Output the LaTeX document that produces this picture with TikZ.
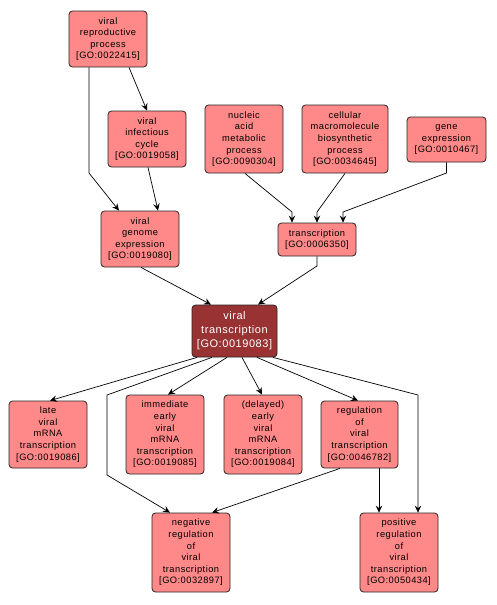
\documentclass[tikz,border=0pt]{standalone}
\usepackage{fontspec}
\setmainfont{Liberation Sans}[LetterSpace=5]
\usetikzlibrary{arrows.meta,calc}
\definecolor{lightbox}{RGB}{255,136,136}
\definecolor{darkbox}{RGB}{153,51,51}
\begin{document}
\begin{tikzpicture}[x=1pt,y=-1pt,
  term/.style={draw=black!85,line width=0.8pt,rounded corners=3.5pt,fill=lightbox,
    align=center,inner sep=0pt,font=\fontsize{9.3}{11.6}\selectfont},
  focus/.style={draw=black!85,line width=0.8pt,rounded corners=3.5pt,fill=darkbox,
    align=center,inner sep=0pt,text=white,font=\fontsize{11}{14}\selectfont},
  edge/.style={draw=black,line width=0.7pt,-{Stealth[length=7pt,width=6.5pt,inset=2.5pt]}}]
\useasboundingbox (0,0) rectangle (496,605);
\node[term,minimum width=78,minimum height=56] (vrp) at (108,39) {viral\\reproductive\\process\\{[}GO:0022415{]}};
\node[term,minimum width=78,minimum height=56] (vic) at (147,139) {viral\\infectious\\cycle\\{[}GO:0019058{]}};
\node[term,minimum width=78,minimum height=56] (vge) at (140,239) {viral\\genome\\expression\\{[}GO:0019080{]}};
\node[term,minimum width=78,minimum height=68] (namp) at (244,139) {nucleic\\acid\\metabolic\\process\\{[}GO:0090304{]}};
\node[term,minimum width=86,minimum height=68] (cmbp) at (345,139) {cellular\\macromolecule\\biosynthetic\\process\\{[}GO:0034645{]}};
\node[term,minimum width=79,minimum height=45] (ge) at (446.5,139.5) {gene\\expression\\{[}GO:0010467{]}};
\node[term,minimum width=78,minimum height=33] (tr) at (317,239.5) {transcription\\{[}GO:0006350{]}};
\node[focus,minimum width=85,minimum height=52] (vt) at (234.5,331) {viral\\transcription\\{[}GO:0019083{]}};
\node[term,minimum width=78,minimum height=67] (late) at (48,434.5) {late\\viral\\mRNA\\transcription\\{[}GO:0019086{]}};
\node[term,minimum width=78,minimum height=79] (ie) at (165,434.5) {immediate\\early\\viral\\mRNA\\transcription\\{[}GO:0019085{]}};
\node[term,minimum width=78,minimum height=79] (de) at (263,434.5) {(delayed)\\early\\viral\\mRNA\\transcription\\{[}GO:0019084{]}};
\node[term,minimum width=77,minimum height=67] (reg) at (359.5,434.5) {regulation\\of\\viral\\transcription\\{[}GO:0046782{]}};
\node[term,minimum width=78,minimum height=79] (neg) at (191,552.5) {negative\\regulation\\of\\viral\\transcription\\{[}GO:0032897{]}};
\node[term,minimum width=78,minimum height=79] (pos) at (399,552.5) {positive\\regulation\\of\\viral\\transcription\\{[}GO:0050434{]}};
% edges
\draw[edge] ($(vrp.south)+(21,0)$) -- (vic.north);
\draw[edge] ($(vrp.south)+(-19,0)$) -- (89,173) -- ($(vge.north)+(-21,0)$);
\draw[edge] ($(vic.south)+(1,0)$) -- ($(vge.north)+(18,0)$);
\draw[edge] ($(vge.south)+(1,0)$) -- ($(vt.north)+(-23.5,0)$);
\draw[edge] (tr.south) -- (317,266) -- ($(vt.north)+(23.5,0)$);
\draw[edge] ($(namp.south)+(1,0)$) -- (292,212) -- ($(tr.north)+(-25,0)$);
\draw[edge] (cmbp.south) -- (317,212) -- (tr.north);
\draw[edge] (ge.south) -- (446.5,173) -- (343,212) -- ($(tr.north)+(26,0)$);
\draw[edge] ($(vt.south)+(-37.5,0)$) -- ($(late.north)+(2,0)$);
\draw[edge] ($(vt.south)+(-22.5,0)$) -- (107,395) -- (107,475) -- ($(neg.north)+(-21,0)$);
\draw[edge] ($(vt.south)+(-7.5,0)$) -- ($(ie.north)+(3,0)$);
\draw[edge] ($(vt.south)+(7.5,0)$) -- ($(de.north)+(-1,0)$);
\draw[edge] ($(vt.south)+(22.5,0)$) -- ($(reg.north)+(-1.5,0)$);
\draw[edge] ($(vt.south)+(38.5,0)$) -- (418,395) -- ($(pos.north)+(19,0)$);
\draw[edge] ($(reg.south)+(-19.5,0)$) -- ($(neg.north)+(21,0)$);
\draw[edge] ($(reg.south)+(19.5,0)$) -- ($(pos.north)+(-20,0)$);
\end{tikzpicture}
\end{document}
